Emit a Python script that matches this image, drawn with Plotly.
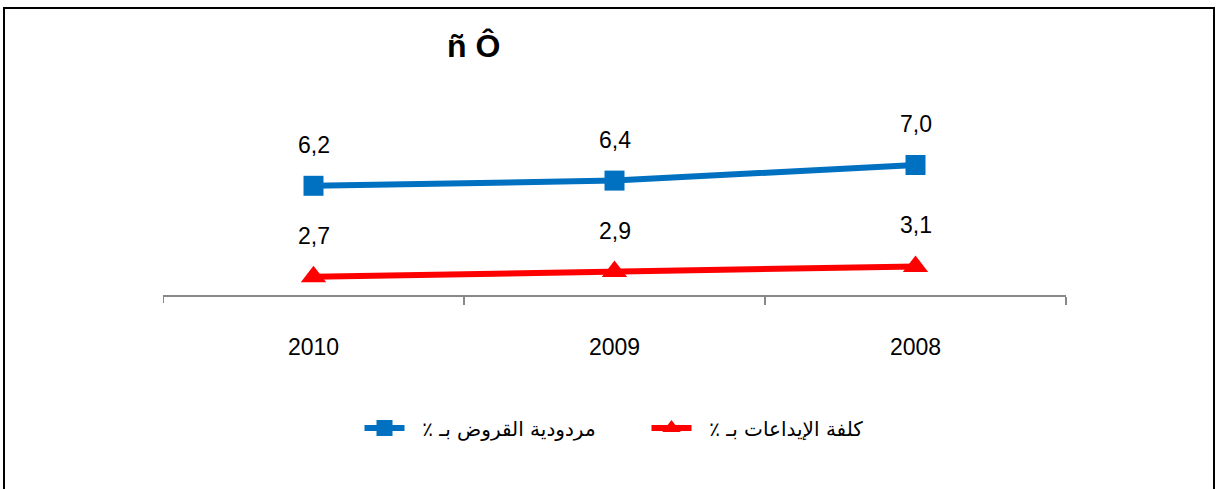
import plotly.graph_objects as go

years = ["2008", "2009", "2010"]
loan_yield = [7.0, 6.4, 6.2]
deposit_cost = [3.1, 2.9, 2.7]
name_loans = "مردودية القروض بـ ٪"
name_deposits = "كلفة الإيداعات بـ ٪"
title_text = "ñ Ô"

blue = "#0070C0"
red = "#FF0000"
num_font = dict(family="Liberation Sans, Arial, sans-serif", size=23, color="black")

fig = go.Figure()
fig.add_trace(go.Scatter(
    x=years, y=loan_yield, name="\u00A0\u00A0" + name_loans + "\u200F", mode="lines+markers",
    line=dict(color=blue, width=6),
    marker=dict(symbol="square", size=20, color=blue),
))
fig.add_trace(go.Scatter(
    x=years, y=deposit_cost, name="\u00A0\u00A0" + name_deposits + "\u200F", mode="lines+markers",
    line=dict(color=red, width=6),
    marker=dict(symbol="triangle-up", size=22, color=red),
))

annotations = []
for ys in (loan_yield, deposit_cost):
    for i, yv in enumerate(ys):
        annotations.append(dict(
            x=i, y=yv, xref="x", yref="y",
            text=f"{yv:.1f}".replace(".", ","),
            showarrow=False, yshift=41, font=num_font,
        ))
annotations.append(dict(
    x=(473 - 163) / 903, y=1 + (100 - 46) / 195, xref="paper", yref="paper",
    xanchor="center", yanchor="middle",
    text=f"<b>{title_text}</b>", showarrow=False,
    font=dict(family="Liberation Sans, Arial, sans-serif", size=32, color="black"),
))

fig.update_layout(
    width=1218, height=489,
    margin=dict(l=163, r=152, t=100, b=194),
    paper_bgcolor="white", plot_bgcolor="white",
    showlegend=True,
    legend=dict(
        orientation="h", x=0.5 + 32 / 903, xanchor="center",
        y=-(428 - 295) / 195, yanchor="middle",
        font=dict(family="DejaVu Sans, sans-serif", size=20, color="black"),
        itemwidth=40, entrywidth=232, entrywidthmode="pixels",
    ),
    annotations=annotations,
    shapes=[
        dict(
            type="rect", xref="paper", yref="paper",
            x0=(4 - 163) / 903, x1=(1214 - 163) / 903,
            y0=-(194 + 10) / 195, y1=1 + (100 - 8) / 195,
            line=dict(color="black", width=2),
        ),
        dict(
            type="line", xref="x", yref="paper",
            x0=len(years) - 0.5, x1=len(years) - 0.5,
            y0=0, y1=-8 / 195,
            line=dict(color="#888888", width=2),
        ),
    ],
)
fig.update_xaxes(
    type="category", categoryorder="array", categoryarray=years,
    range=[2.5, -0.5], tickson="boundaries",
    showline=True, linecolor="#888888", linewidth=2,
    ticks="outside", ticklen=8, tickcolor="#888888", tickwidth=2,
    showgrid=False, zeroline=False,
    tickfont=num_font, ticklabelstandoff=30, tickangle=0,
)
fig.update_yaxes(
    range=[2, 9.5], visible=False, showgrid=False, zeroline=False,
)

fig.write_html(
    "out.html",
    config={"displayModeBar": False},
    post_script="document.body.style.margin='0';document.body.style.overflow='hidden';",
)
